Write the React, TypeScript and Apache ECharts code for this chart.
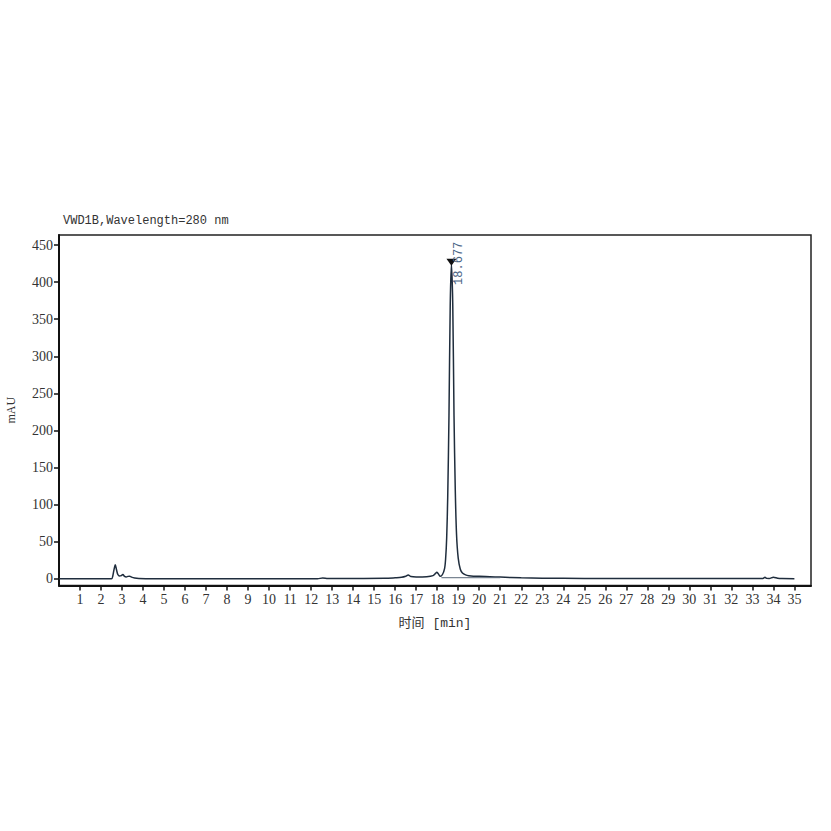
import React, { useEffect, useRef } from "react";
import * as echarts from "echarts";

const titleText = "VWD1B,Wavelength=280 nm";
const xName = "时间 [min]";
const yName = "mAU";
const xTicks = [1, 2, 3, 4, 5, 6, 7, 8, 9, 10, 11, 12, 13, 14, 15, 16, 17, 18, 19, 20, 21, 22, 23, 24, 25, 26, 27, 28, 29, 30, 31, 32, 33, 34, 35];
const yTicks = [0, 50, 100, 150, 200, 250, 300, 350, 400, 450];

const times = [
  0.0, 2.5, 2.56, 2.62, 2.68, 2.74, 2.8, 2.88, 2.96, 3.04, 3.12, 3.2, 3.28, 3.36, 3.45, 3.6, 3.8, 4.5,
  12.3, 12.55, 12.8, 14.0, 15.5, 16.0, 16.3, 16.5, 16.62, 16.75, 17.0, 17.5, 17.8, 17.92, 17.98, 18.05,
  18.15, 18.25, 18.35, 18.4, 18.45, 18.5, 18.56, 18.62, 18.677, 18.74, 18.8, 18.86, 18.92, 19.0, 19.1,
  19.2, 19.35, 19.5, 20.0, 21.0, 22.0, 23.0, 25.0, 33.5, 33.6, 33.68, 33.8, 34.0, 34.2, 34.4, 35.0,
];
const values = [
  0.3, 0.3, 4, 13, 19, 12, 6, 4, 4.5, 6, 3.5, 2.8, 3.5, 3.8, 2.5, 1.3, 0.7, 0.4,
  0.4, 1.2, 0.5, 0.7, 0.9, 1.6, 2.2, 3.6, 5.5, 3.2, 2.6, 3.0, 4.5, 7.5, 9, 7,
  3.5, 6, 14, 27, 55, 110, 220, 370, 424, 370, 220, 120, 60, 28, 13,
  8, 5.5, 4.5, 3.5, 2.5, 1.6, 1.1, 0.7, 0.6, 2.2, 0.8, 0.6, 2.4, 1.0, 0.5, 0.4,
];
const baselineTimes = [18.2, 21.0];
const baselineValues = [1.7, 1.7];
const peakTime = 18.677;
const peakValue = 424;
const peakLabel = "18.677";

export default function App() {
  const ref = useRef<HTMLDivElement>(null);
  useEffect(() => {
    if (!ref.current) return;
    const chart = echarts.init(ref.current, undefined, { renderer: "svg" });
    const serif = "'Liberation Serif', 'Times New Roman', serif";
    const mono = "'Liberation Mono', 'Noto Sans CJK SC', monospace";
    chart.setOption({
      animation: false,
      backgroundColor: "#ffffff",
      title: {
        text: titleText,
        left: 63,
        top: 215,
        padding: 0,
        textStyle: { fontFamily: mono, fontSize: 12, fontWeight: "normal", color: "#333" },
      },
      grid: {
        left: 59,
        right: 20,
        top: 235,
        bottom: 245.5,
        containLabel: false,
        outerBoundsMode: "none",
        show: true,
        borderColor: "#222",
        borderWidth: 1.5,
        backgroundColor: "transparent",
      },
      xAxis: {
        type: "value",
        min: 0,
        max: 35.79,
        name: xName,
        nameLocation: "middle",
        nameGap: 31,
        nameTextStyle: { fontFamily: mono, fontSize: 13, color: "#333" },
        axisLine: { show: true, onZero: false, lineStyle: { color: "#111", width: 2 } },
        axisTick: { show: true, length: 5, inside: false, customValues: xTicks, lineStyle: { color: "#111", width: 1.5 } },
        axisLabel: { customValues: xTicks, fontFamily: serif, fontSize: 14, color: "#333", margin: 7 },
        splitLine: { show: false },
      },
      yAxis: {
        type: "value",
        min: -8.8,
        max: 463.5,
        name: yName,
        nameLocation: "middle",
        nameGap: 42,
        nameRotate: 90,
        nameTextStyle: { fontFamily: serif, fontSize: 12, color: "#333" },
        axisLine: { show: true, onZero: false, lineStyle: { color: "#111", width: 2 } },
        axisTick: { show: true, length: 5, customValues: yTicks, lineStyle: { color: "#111", width: 1.5 } },
        axisLabel: { customValues: yTicks, fontFamily: serif, fontSize: 14, color: "#333", margin: 6 },
        splitLine: { show: false },
      },
      series: [
        {
          type: "line",
          data: times.map((t, i) => [t, values[i]]),
          showSymbol: false,
          smooth: 0.3,
          lineStyle: { color: "#1f2d3d", width: 1.5 },
          markPoint: {
            symbol: "triangle",
            symbolSize: [10, 7],
            symbolRotate: 180,
            symbolOffset: [0, -2],
            itemStyle: { color: "#111" },
            label: {
              show: true,
              formatter: peakLabel,
              rotate: 90,
              position: "inside",
              offset: [-1, 8],
              fontFamily: mono,
              fontSize: 12,
              color: "#4a6585",
            },
            data: [{ coord: [peakTime, peakValue] }],
          },
        },
        {
          type: "line",
          data: baselineTimes.map((t, i) => [t, baselineValues[i]]),
          showSymbol: false,
          lineStyle: { color: "#5a6878", width: 1 },
        },
      ],
    });
    return () => chart.dispose();
  }, []);
  return <div ref={ref} style={{ position: "fixed", left: 0, top: 0, width: 831, height: 831 }} />;
}
